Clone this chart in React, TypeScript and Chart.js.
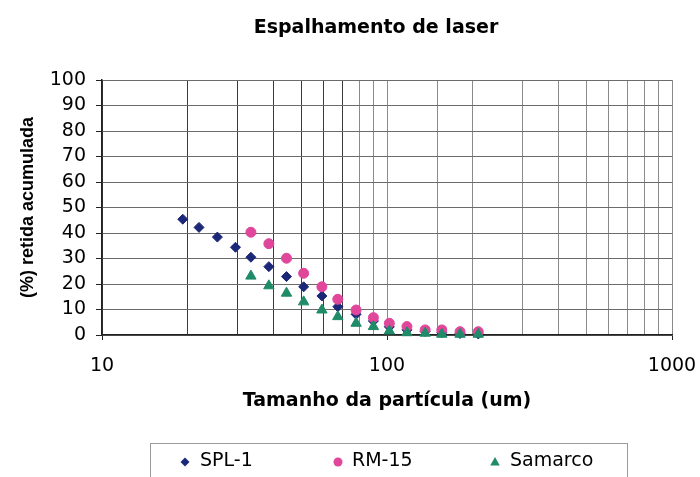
import React, { useEffect, useRef } from 'react';
import { Chart, registerables } from 'chart.js';

Chart.register(...registerables);

const chartTitle = 'Espalhamento de laser';
const xTitle = 'Tamanho da partícula (um)';
const yTitle = '(%) retida acumulada';
const seriesNames = ['SPL-1', 'RM-15', 'Samarco'];

const sizesSPL = [19.2, 21.9, 25.4, 29.4, 33.3, 38.5, 44.4, 51.0, 59.1, 67.2, 77.9, 89.6, 101.9, 117.5, 136.1, 155.7, 180.4, 209];
const valuesSPL = [45.4, 42.2, 38.4, 34.4, 30.5, 26.8, 22.9, 18.9, 15.3, 11.1, 8.1, 5.5, 3.2, 2.0, 1.4, 0.9, 0.6, 0.4];

const sizesRM = [33.3, 38.5, 44.4, 51.0, 59.1, 67.2, 77.9, 89.6, 101.9, 117.5, 136.1, 155.7, 180.4, 209];
const valuesRM = [40.3, 35.8, 30.1, 24.2, 18.9, 14.0, 9.8, 6.8, 4.6, 3.3, 2.0, 2.0, 1.3, 1.3];

const sizesSam = [33.3, 38.5, 44.4, 51.0, 59.1, 67.2, 77.9, 89.6, 101.9, 117.5, 136.1, 155.7, 180.4, 209];
const valuesSam = [23.1, 19.3, 16.4, 13.0, 9.8, 7.2, 4.6, 3.3, 1.6, 0.9, 0.7, 0.3, 0.3, 0.3];

const xMajorLabels = [10, 100, 1000];
const yMin = 0;
const yMax = 100;
const yStep = 10;

const colors = ['#1b2777', '#e0479b', '#1f8b68'];
const pointStyles = ['rectRot', 'circle', 'triangle'];
const pointRadii = [5, 5, 6];

const FONT = '"DejaVu Sans", sans-serif';

function drawMarker(ctx: CanvasRenderingContext2D, style: string, x: number, y: number, r: number, color: string) {
  ctx.save();
  ctx.fillStyle = color;
  ctx.beginPath();
  if (style === 'rectRot') {
    ctx.moveTo(x, y - r);
    ctx.lineTo(x + r, y);
    ctx.lineTo(x, y + r);
    ctx.lineTo(x - r, y);
  } else if (style === 'circle') {
    ctx.arc(x, y, r, 0, Math.PI * 2);
  } else {
    ctx.moveTo(x, y - r);
    ctx.lineTo(x + r * 0.95, y + r * 0.7);
    ctx.lineTo(x - r * 0.95, y + r * 0.7);
  }
  ctx.closePath();
  ctx.fill();
  ctx.restore();
}

const titlePlugin = {
  id: 'customTitle',
  afterDraw(chart: any) {
    const ctx = chart.ctx as CanvasRenderingContext2D;
    ctx.save();
    ctx.font = `bold 19px ${FONT}`;
    ctx.fillStyle = '#000';
    ctx.textAlign = 'center';
    ctx.textBaseline = 'middle';
    ctx.fillText(chartTitle, 376, 28);
    ctx.restore();
  },
};

const legendPlugin = {
  id: 'customLegend',
  afterDraw(chart: any) {
    const ctx = chart.ctx as CanvasRenderingContext2D;
    ctx.save();
    ctx.strokeStyle = '#9a9a9a';
    ctx.lineWidth = 1;
    ctx.strokeRect(150.5, 443.5, 477, 45);
    const markerX = [185, 338, 495];
    const textX = [200, 352, 510];
    const y = 461;
    ctx.font = `19px ${FONT}`;
    ctx.textAlign = 'left';
    ctx.textBaseline = 'middle';
    chart.data.datasets.forEach((ds: any, i: number) => {
      drawMarker(ctx, pointStyles[i], markerX[i], y + 1, i === 2 ? 5 : 4.5, colors[i]);
      ctx.fillStyle = '#000';
      ctx.fillText(ds.label, textX[i], y);
    });
    ctx.restore();
  },
};

export default function App() {
  const canvasRef = useRef<HTMLCanvasElement | null>(null);

  useEffect(() => {
    if (!canvasRef.current) return;
    const series = [
      { xs: sizesSPL, ys: valuesSPL },
      { xs: sizesRM, ys: valuesRM },
      { xs: sizesSam, ys: valuesSam },
    ];
    const chart = new Chart(canvasRef.current, {
      type: 'scatter',
      data: {
        datasets: series.map((s, i) => ({
          label: seriesNames[i],
          data: s.xs.map((x, j) => ({ x, y: s.ys[j] })),
          pointStyle: pointStyles[i] as any,
          pointRadius: pointRadii[i],
          pointHoverRadius: pointRadii[i],
          backgroundColor: colors[i],
          borderColor: colors[i],
          borderWidth: 1,
          showLine: false,
          clip: false as any,
          order: 2 - i,
        })),
      },
      options: {
        animation: false,
        responsive: false,
        layout: { padding: { top: 80, left: 0, right: 28, bottom: 0 } },
        plugins: {
          legend: { display: false },
          title: { display: false },
          tooltip: { enabled: false },
        },
        scales: {
          x: {
            type: 'logarithmic',
            min: 10,
            max: 1000,
            position: 'bottom',
            afterFit: (s: any) => {
              s.height = 142;
              s.paddingLeft = 0;
              s.paddingRight = 0;
            },
            grid: {
              color: (c: any) => (c.tick && c.tick.value <= 70 ? '#3a3a3a' : '#8a8a8a'),
              lineWidth: 1,
              tickLength: 5,
              tickColor: (c: any) => (c.tick && xMajorLabels.includes(c.tick.value) ? '#222' : 'rgba(0,0,0,0)'),
            },
            border: { color: '#222', width: 1.5 },
            ticks: {
              autoSkip: false,
              maxRotation: 0,
              padding: 15,
              color: '#000',
              font: { family: FONT, size: 19 },
              callback: (v: any) => (xMajorLabels.includes(Number(v)) ? String(v) : ''),
            },
            title: {
              display: true,
              text: xTitle,
              color: '#000',
              font: { family: FONT, size: 19, weight: 'bold' },
              padding: { top: 0, bottom: 65 },
            },
          },
          y: {
            min: yMin,
            max: yMax,
            afterFit: (s: any) => {
              s.width = 102;
              s.paddingTop = 0;
              s.paddingBottom = 0;
            },
            ticks: {
              stepSize: yStep,
              autoSkip: false,
              padding: 10,
              color: '#000',
              font: { family: FONT, size: 19 },
            },
            grid: { color: '#6b6b6b', lineWidth: 1, tickLength: 6, tickColor: '#222' },
            border: { color: '#222', width: 1.5 },
            title: {
              display: true,
              text: yTitle,
              color: '#000',
              font: { family: '"Liberation Sans", Arial, sans-serif', size: 18, weight: 'bold' },
              padding: { top: 17, bottom: 0 },
            },
          },
        },
      },
      plugins: [titlePlugin, legendPlugin],
    });
    return () => chart.destroy();
  }, []);

  return (
    <div style={{ position: 'fixed', left: 0, top: 0, width: 700, height: 477, background: '#fff' }}>
      <canvas ref={canvasRef} width={700} height={477} style={{ display: 'block' }} />
    </div>
  );
}
